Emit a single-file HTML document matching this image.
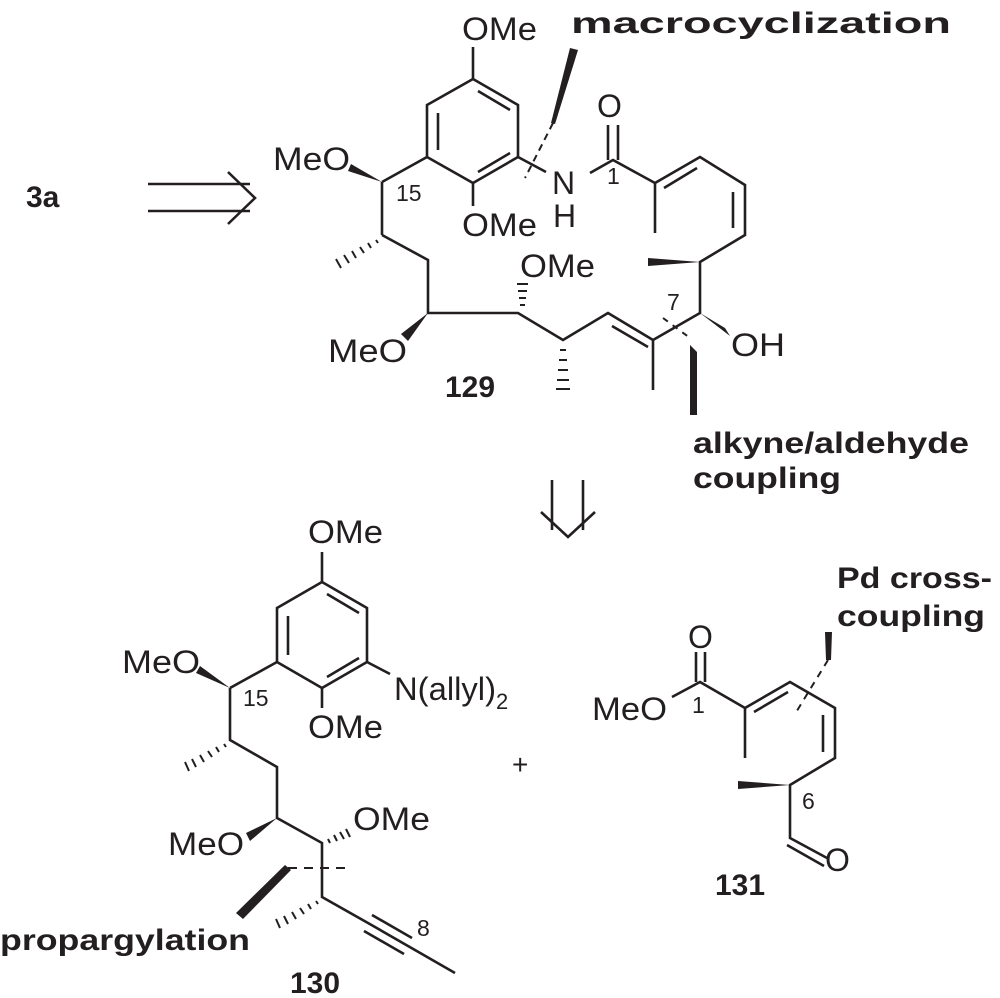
<!DOCTYPE html>
<html><head><meta charset="utf-8"><style>
html,body{margin:0;padding:0;background:#fff;}
svg{display:block;}
text{font-family:"Liberation Sans",sans-serif;fill:#231f20;}
.b{font-weight:bold;}
</style></head><body>
<svg width="1000" height="998" viewBox="0 0 1000 998" xmlns="http://www.w3.org/2000/svg">
<g stroke="#231f20" stroke-width="2.6" fill="none" stroke-linecap="butt">
<line x1="148" y1="184" x2="250" y2="184"/><line x1="148" y1="211" x2="250" y2="211"/>
<polyline points="228,172 255,198 228,224"/>
<line x1="552" y1="480" x2="552" y2="530"/><line x1="583" y1="480" x2="583" y2="530"/>
<polyline points="541,512 568,537 595,512"/>

<polyline points="473,79 518,105 518,157 473,183 427,157 427,105 473,79"/>
<line x1="438" y1="113" x2="438" y2="150"/>
<line x1="478" y1="91" x2="510" y2="110"/>
<line x1="478" y1="172" x2="510" y2="153"/>
<line x1="473" y1="79" x2="473" y2="47"/>
<line x1="473" y1="183" x2="473" y2="206"/>
<line x1="427" y1="157" x2="382" y2="182"/>
<line x1="382" y1="182" x2="382" y2="235"/>
<polyline points="382,235 428,260 428,313 518,313 563,340 608,313 653,340 700,313 700,262 745,235 745,185 700,157 655,183 613,160 590,173"/>
<line x1="518" y1="157" x2="546" y2="172"/>
<line x1="653" y1="340" x2="653" y2="390"/>
<line x1="612" y1="326" x2="648" y2="347"/>
<line x1="733" y1="192" x2="733" y2="228"/>
<line x1="697" y1="168" x2="664" y2="188"/>
<line x1="655" y1="183" x2="655" y2="233"/>
<line x1="608" y1="160" x2="608" y2="125"/><line x1="618" y1="160" x2="618" y2="125"/>
<g stroke-width="2">
<line x1="376" y1="240" x2="378" y2="243"/><line x1="368" y1="243" x2="371" y2="248"/><line x1="360" y1="247" x2="364" y2="253"/><line x1="352" y1="251" x2="356" y2="258"/><line x1="344" y1="255" x2="349" y2="263"/><line x1="336" y1="259" x2="341" y2="268"/>
<line x1="520" y1="305" x2="525" y2="305"/><line x1="519" y1="298" x2="526" y2="298"/><line x1="518" y1="291" x2="527" y2="291"/><line x1="517" y1="284" x2="528" y2="284"/>
<line x1="560" y1="350" x2="566" y2="350"/><line x1="559" y1="360" x2="567" y2="360"/><line x1="558" y1="370" x2="568" y2="370"/><line x1="557" y1="380" x2="569" y2="380"/><line x1="556" y1="389" x2="570" y2="389"/>
<line x1="553" y1="123" x2="525" y2="178" stroke-dasharray="7,5"/>
<line x1="663" y1="318" x2="690" y2="338" stroke-dasharray="6,6"/>
</g>
</g>
<g fill="#231f20">
<polygon points="382,182 351,164 348,171"/>
<polygon points="428,313 401,334 408,341"/>
<polygon points="700,313 725,328 730,336"/>
<polygon points="700,262 648,258 648,266"/>
<polygon points="570,48 578,50 555,124 551,123"/>
<polygon points="690,345 697,352 697,415 690,415"/>
</g>
<g font-size="32">
<text x="462" y="40" textLength="75" lengthAdjust="spacingAndGlyphs">OMe</text>
<text x="462" y="236" textLength="75" lengthAdjust="spacingAndGlyphs">OMe</text>
<text x="273" y="170" textLength="77" lengthAdjust="spacingAndGlyphs">MeO</text>
<text x="328" y="362" textLength="79" lengthAdjust="spacingAndGlyphs">MeO</text>
<text x="520" y="277" textLength="75" lengthAdjust="spacingAndGlyphs">OMe</text>
<text x="552" y="194">N</text>
<text x="553" y="227">H</text>
<text x="597" y="117">O</text>
<text x="731" y="356" textLength="54" lengthAdjust="spacingAndGlyphs">OH</text>
</g>
<g font-size="23">
<text x="396" y="201">15</text>
<text x="607" y="184">1</text>
<text x="667" y="310">7</text>
</g>
<g class="b" font-size="30">
<text class="b" x="26" y="207">3a</text>
<text class="b" x="571" y="33" textLength="380" lengthAdjust="spacingAndGlyphs">macrocyclization</text>
<text class="b" x="445" y="397">129</text>
<text class="b" x="693" y="453" textLength="276" lengthAdjust="spacingAndGlyphs">alkyne/aldehyde</text>
<text class="b" x="693" y="488" textLength="148" lengthAdjust="spacingAndGlyphs">coupling</text>
</g>

<g stroke="#231f20" stroke-width="2.6" fill="none">
<polyline points="322,582 367,608 367,662 322,688 277,662 277,608 322,582"/>
<line x1="288" y1="616" x2="288" y2="655"/>
<line x1="327" y1="594" x2="359" y2="613"/>
<line x1="327" y1="677" x2="359" y2="658"/>
<line x1="322" y1="582" x2="322" y2="552"/>
<line x1="322" y1="688" x2="322" y2="708"/>
<line x1="367" y1="662" x2="390" y2="674"/>
<line x1="277" y1="662" x2="230" y2="688"/>
<polyline points="230,688 230,740 277,767 277,818 322,843 322,897 368,923 408,946 455,973"/>
<line x1="372" y1="915" x2="412" y2="938"/>
<line x1="364" y1="931" x2="404" y2="954"/>
<g stroke-width="2">
<line x1="224" y1="744" x2="226" y2="747"/><line x1="216" y1="747" x2="219" y2="752"/><line x1="208" y1="751" x2="212" y2="757"/><line x1="200" y1="755" x2="204" y2="762"/><line x1="192" y1="759" x2="196" y2="767"/><line x1="185" y1="762" x2="189" y2="771"/>
<line x1="328" y1="839" x2="330" y2="843"/><line x1="334" y1="835" x2="337" y2="841"/><line x1="340" y1="832" x2="344" y2="839"/><line x1="346" y1="829" x2="350" y2="837"/>
<line x1="316" y1="901" x2="318" y2="904"/><line x1="308" y1="904" x2="311" y2="909"/><line x1="300" y1="908" x2="304" y2="914"/><line x1="292" y1="912" x2="296" y2="919"/><line x1="284" y1="916" x2="288" y2="924"/><line x1="276" y1="919" x2="280" y2="928"/>
<line x1="288" y1="868" x2="348" y2="868" stroke-dasharray="9,7"/>
</g>
</g>
<g fill="#231f20">
<polygon points="230,688 200,666 196,673"/>
<polygon points="277,818 246,833 250,841"/>
<polygon points="285,865 291,870 243,919 236,913"/>
</g>
<g font-size="32">
<text x="308" y="543" textLength="75" lengthAdjust="spacingAndGlyphs">OMe</text>
<text x="308" y="738" textLength="75" lengthAdjust="spacingAndGlyphs">OMe</text>
<text x="122" y="673" textLength="78" lengthAdjust="spacingAndGlyphs">MeO</text>
<text x="168" y="855" textLength="76" lengthAdjust="spacingAndGlyphs">MeO</text>
<text x="353" y="830" textLength="77" lengthAdjust="spacingAndGlyphs">OMe</text>
<text x="394" y="700" textLength="102" lengthAdjust="spacingAndGlyphs">N(allyl)</text>
<text x="496" y="709" font-size="22">2</text>
<text x="512" y="774" font-size="28">+</text>
</g>
<g font-size="23"><text x="243" y="706">15</text><text x="417" y="936">8</text></g>
<text class="b" x="0" y="950" font-size="30" textLength="250" lengthAdjust="spacingAndGlyphs">propargylation</text>
<text class="b" x="290" y="993" font-size="30">130</text>

<g stroke="#231f20" stroke-width="2.6" fill="none">
<polyline points="672,697 700,682 745,708 790,682 835,708 835,758 790,785 790,838 827,858"/>
<line x1="745" y1="708" x2="745" y2="758"/>
<line x1="754" y1="712" x2="788" y2="692"/>
<line x1="823" y1="715" x2="823" y2="752"/>
<line x1="696" y1="682" x2="696" y2="652"/><line x1="705" y1="682" x2="705" y2="652"/>
<line x1="787" y1="845" x2="824" y2="866"/>
<line x1="828" y1="660" x2="795" y2="714" stroke-width="2" stroke-dasharray="7,6"/>
</g>
<g fill="#231f20">
<polygon points="790,785 738,781 738,789"/>
<polygon points="825,632 832,632 831,660 826,660"/>
</g>
<g font-size="32">
<text x="592" y="720" textLength="75" lengthAdjust="spacingAndGlyphs">MeO</text>
<text x="688" y="648">O</text>
<text x="825" y="871">O</text>
</g>
<g font-size="23"><text x="692" y="713">1</text><text x="802" y="809">6</text></g>
<text class="b" x="837" y="588" font-size="30" textLength="155" lengthAdjust="spacingAndGlyphs">Pd cross-</text>
<text class="b" x="837" y="626" font-size="30" textLength="148" lengthAdjust="spacingAndGlyphs">coupling</text>
<text class="b" x="715" y="895" font-size="30">131</text>
</svg>
</body></html>
